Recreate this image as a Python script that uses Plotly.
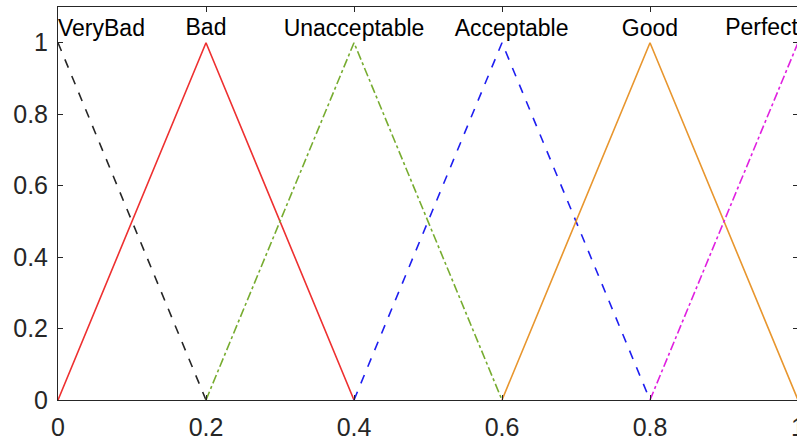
import plotly.graph_objects as go

# Membership functions (triangular)
names = ["VeryBad", "Bad", "Unacceptable", "Acceptable", "Good", "Perfect"]
xs = [
    [0.0, 0.2],
    [0.0, 0.2, 0.4],
    [0.2, 0.4, 0.6],
    [0.4, 0.6, 0.8],
    [0.6, 0.8, 1.0],
    [0.8, 1.0],
]
ys = [
    [1, 0],
    [0, 1, 0],
    [0, 1, 0],
    [0, 1, 0],
    [0, 1, 0],
    [0, 1],
]
colors = ["#262626", "#EE3030", "#77AC30", "#1E1EF0", "#E8962E", "#E020E0"]
dashes = ["dash", "solid", "dashdot", "dash", "solid", "dashdot"]

# Label positions
label_x = [0.0, 0.2, 0.4, 0.613, 0.8, 1.0]
label_y = [1.034, 1.038, 1.034, 1.034, 1.034, 1.038]
label_pos = ["middle right", "middle center", "middle center", "middle center", "middle center", "middle left"]

xticks = [0, 0.2, 0.4, 0.6, 0.8, 1]
yticks = [0, 0.2, 0.4, 0.6, 0.8, 1]

fig = go.Figure()
for x, y, c, d, n in zip(xs, ys, colors, dashes, names):
    fig.add_trace(go.Scatter(x=x, y=y, mode="lines", name=n,
                             line=dict(color=c, width=1.6, dash=d),
                             cliponaxis=False))

fig.add_trace(go.Scatter(x=label_x, y=label_y, mode="text", text=names,
                         textposition=label_pos, cliponaxis=False,
                         textfont=dict(size=23, color="#000000",
                                       family="Liberation Sans, Arial, sans-serif")))

axis_common = dict(showgrid=False, zeroline=False, showline=True,
                   linecolor="#262626", linewidth=1, mirror="ticks",
                   ticks="inside", ticklen=5, tickcolor="#262626",
                   ticklabeloverflow="allow", automargin=False,
                   tickfont=dict(size=25, color="#262626",
                                 family="Liberation Sans, Arial, sans-serif"))

fig.update_xaxes(range=[0, 1], tickvals=xticks, ticklabelstandoff=5,
                 ticktext=[("%g" % v) for v in xticks], **axis_common)
fig.update_yaxes(range=[0, 1.1], tickvals=yticks, ticklabelstandoff=4,
                 ticktext=[("%g" % v) for v in yticks], **axis_common)

fig.update_layout(width=800, height=441, showlegend=False,
                  plot_bgcolor="white", paper_bgcolor="white",
                  margin=dict(l=58, r=2, t=7, b=41, autoexpand=False))

fig.write_html("out.html", config={"displayModeBar": False},
               post_script="document.body.style.margin='0px';document.body.style.overflow='hidden';")
